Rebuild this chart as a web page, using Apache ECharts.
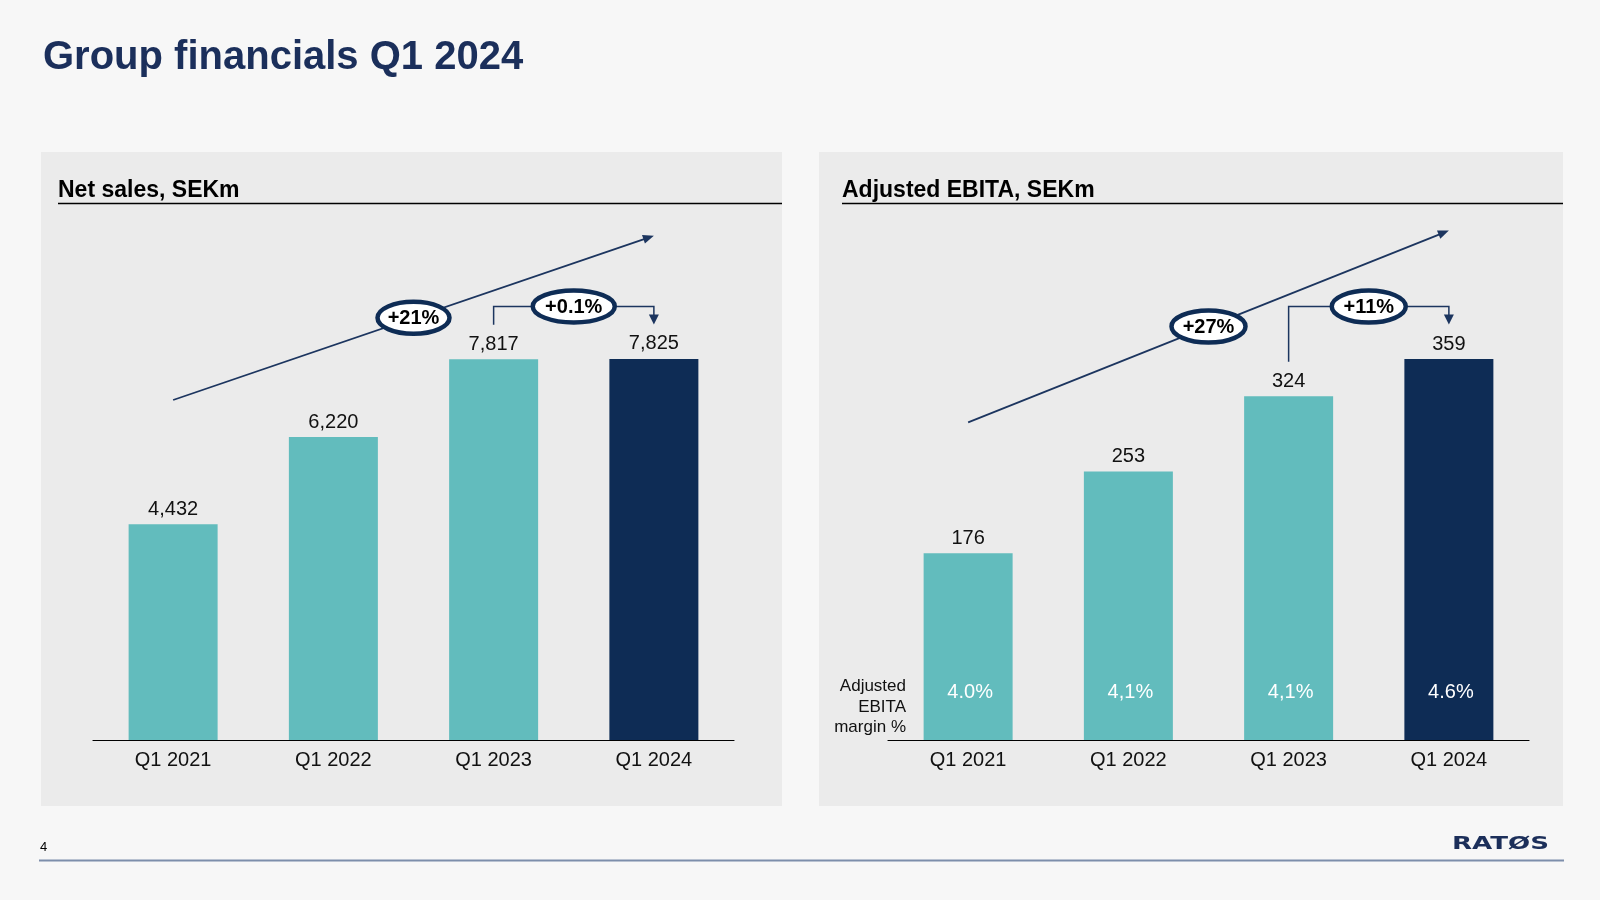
<!DOCTYPE html>
<html>
<head>
<meta charset="utf-8">
<script src="https://cdn.jsdelivr.net/npm/echarts@6/dist/echarts.min.js"></script>
<style>
html,body{margin:0;padding:0;background:#f7f7f7;}
#c{width:1600px;height:900px;}
</style>
</head>
<body>
<div id="c"></div>
<script>
// ---- data ----
const categories = ['Q1 2021', 'Q1 2022', 'Q1 2023', 'Q1 2024'];
const netSales = [4432, 6220, 7817, 7825];
const adjEbita = [176, 253, 324, 359];
const ebitaMargin = ['4.0%', '4,1%', '4,1%', '4.6%'];
const cagrLabels = ['+21%', '+27%'];
const yoyLabels = ['+0.1%', '+11%'];
const panelTitles = ['Net sales, SEKm', 'Adjusted EBITA, SEKm'];
const pageTitle = 'Group financials Q1 2024';
const marginAxisLabel = 'Adjusted\nEBITA\nmargin %';
const pageNumber = '4';

// ---- style ----
const TEAL = '#62bcbd';
const NAVY = '#0e2c55';
const LINE = '#1c355f';
const FONT = '"Liberation Sans", Arial, sans-serif';

const chart = echarts.init(document.getElementById('c'));

const barColor = (p) => p.dataIndex === categories.length - 1 ? NAVY : TEAL;

function xAxisCfg(idx) {
  return {
    type: 'category', gridIndex: idx, data: categories,
    axisLine: { lineStyle: { color: '#000', width: 1.2 } },
    axisTick: { show: false },
    axisLabel: { color: '#111', fontSize: 20, fontFamily: FONT, margin: 10 }
  };
}

chart.setOption({
  backgroundColor: '#f7f7f7',
  animation: false,
  grid: [
    { left: 93, width: 641, top: 253, height: 487 },
    { left: 888, width: 641, top: 262.5, height: 477.5 }
  ],
  xAxis: [xAxisCfg(0), xAxisCfg(1)],
  yAxis: [
    { type: 'value', gridIndex: 0, min: 0, max: 10000, show: false, splitLine: { show: false } },
    { type: 'value', gridIndex: 1, min: 0, max: 450, show: false, splitLine: { show: false } }
  ],
  series: [
    {
      type: 'bar', xAxisIndex: 0, yAxisIndex: 0, data: netSales, barWidth: 89,
      itemStyle: { color: barColor },
      label: { show: true, position: 'top', distance: 5, color: '#111', fontSize: 20, fontFamily: FONT,
        formatter: (p) => p.value.toLocaleString('en-US') }
    },
    {
      type: 'bar', xAxisIndex: 1, yAxisIndex: 1, data: adjEbita, barWidth: 89, barGap: '-100%',
      itemStyle: { color: barColor },
      label: { show: true, position: 'top', distance: 5, color: '#111', fontSize: 20, fontFamily: FONT }
    },
    {
      type: 'bar', xAxisIndex: 1, yAxisIndex: 1, data: adjEbita, barWidth: 89, barGap: '-100%', z: 3,
      itemStyle: { color: 'rgba(0,0,0,0)' }, silent: true,
      label: { show: true, position: 'insideBottom', distance: 38, offset: [2, 0], color: '#ffffff', fontSize: 20, fontFamily: FONT,
        formatter: (p) => ebitaMargin[p.dataIndex] }
    }
  ]
});

// ---- annotations ----
function px(gi, cat) { return chart.convertToPixel({ xAxisIndex: gi }, cat); }
function py(gi, v) { return chart.convertToPixel({ yAxisIndex: gi }, v); }

function head(tipX, tipY, fromX, fromY, len, half) {
  const dx = tipX - fromX, dy = tipY - fromY, L = Math.hypot(dx, dy);
  const ux = dx / L, uy = dy / L;
  const bx = tipX - ux * len, by = tipY - uy * len;
  return { type: 'polygon', z: 20, shape: { points: [[tipX, tipY], [bx - uy * half, by + ux * half], [bx + uy * half, by - ux * half]] },
    style: { fill: LINE } };
}

function badge(cx, cy, rx, text) {
  return [
    { type: 'ellipse', z: 30, shape: { cx: cx, cy: cy, rx: rx, ry: 16 },
      style: { fill: '#ffffff', stroke: NAVY, lineWidth: 4.5 } },
    { type: 'text', z: 31, style: { text: text, x: cx, y: cy + 1, textAlign: 'center', textVerticalAlign: 'middle',
      font: 'bold 20px ' + FONT, fill: '#000' } }
  ];
}

function annotations(gi, values, trendY1, trendY2, cagr, yoy, rxCagr, rxYoy) {
  const els = [];
  const n = categories.length;
  const x1 = px(gi, categories[0]), x4 = px(gi, categories[n - 1]), x3 = px(gi, categories[n - 2]);
  // trend arrow
  const tipX = x4, tipY = trendY2;
  const ux = tipX - x1, uy = tipY - trendY1, L = Math.hypot(ux, uy);
  els.push({ type: 'line', z: 20, shape: { x1: x1, y1: trendY1, x2: tipX - ux / L * 8, y2: tipY - uy / L * 8 },
    style: { stroke: LINE, lineWidth: 1.8 } });
  els.push(head(tipX, tipY, x1, trendY1, 11, 4.5));
  els.push(...badge((x1 + tipX) / 2, (trendY1 + tipY) / 2, rxCagr, cagr));
  // yoy bracket
  const yStart = py(gi, values[n - 2]) - 34.5;
  const yEnd = py(gi, values[n - 1]) - 34.5;
  const yTop = py(gi, Math.max(values[n - 2], values[n - 1])) - 52.5;
  els.push({ type: 'polyline', z: 20, shape: { points: [[x3, yStart], [x3, yTop], [x4, yTop], [x4, yEnd - 8]] },
    style: { stroke: LINE, lineWidth: 1.5, fill: null } });
  els.push(head(x4, yEnd, x4, yTop, 10, 5));
  els.push(...badge((x3 + x4) / 2, yTop, rxYoy, yoy));
  return els;
}

const graphic = [
  // panels
  { type: 'rect', z: -10, shape: { x: 41, y: 152, width: 741, height: 654 }, style: { fill: '#ebebeb' } },
  { type: 'rect', z: -10, shape: { x: 819, y: 152, width: 744, height: 654 }, style: { fill: '#ebebeb' } },
  // page title
  { type: 'text', style: { text: pageTitle, x: 43, y: 58, textVerticalAlign: 'middle', font: 'bold 40px ' + FONT, fill: '#1b2f5b' } },
  // panel titles
  { type: 'text', style: { text: panelTitles[0], x: 58, y: 191, textVerticalAlign: 'middle', font: 'bold 23px ' + FONT, fill: '#000' } },
  { type: 'line', shape: { x1: 58, y1: 203.5, x2: 782, y2: 203.5 }, style: { stroke: '#000', lineWidth: 1.5 } },
  { type: 'text', style: { text: panelTitles[1], x: 842, y: 191, textVerticalAlign: 'middle', font: 'bold 23px ' + FONT, fill: '#000' } },
  { type: 'line', shape: { x1: 842, y1: 203.5, x2: 1563, y2: 203.5 }, style: { stroke: '#000', lineWidth: 1.5 } },
  // margin axis label
  { type: 'text', style: { text: marginAxisLabel, x: 906, y: 707, textAlign: 'right', textVerticalAlign: 'middle',
    font: '17px ' + FONT, lineHeight: 20.5, fill: '#111' } },
  // footer
  { type: 'text', style: { text: pageNumber, x: 40, y: 847, textVerticalAlign: 'middle', font: '13px ' + FONT, fill: '#000' } },
  { type: 'line', shape: { x1: 39, y1: 860.5, x2: 1564, y2: 860.5 }, style: { stroke: '#7d8eab', lineWidth: 2 } },
  { type: 'text', x: 1452, y: 844, scaleX: 1.45, style: { text: 'RATØS', x: 0, y: 0, textVerticalAlign: 'middle',
    font: 'bold 18px "DejaVu Sans", sans-serif', fill: '#1c2f5a' } }
];

graphic.push(...annotations(0, netSales, 400, 235.7, cagrLabels[0], yoyLabels[0], 36, 41));
graphic.push(...annotations(1, adjEbita, 422.4, 230.6, cagrLabels[1], yoyLabels[1], 37, 37));

chart.setOption({ graphic: graphic });
</script>
</body>
</html>
